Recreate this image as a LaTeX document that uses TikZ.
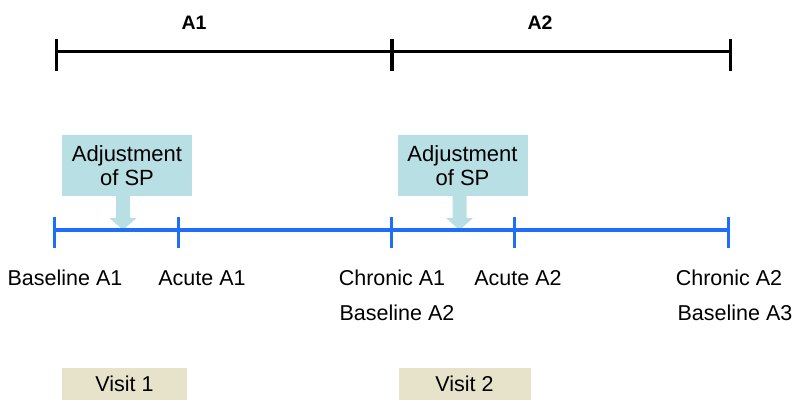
\documentclass[tikz,border=0pt]{standalone}
\usepackage{fontspec}
\setmainfont{Liberation Sans}
\usetikzlibrary{calc}
\definecolor{tlblue}{RGB}{31,110,250}
\definecolor{adjfill}{RGB}{184,223,227}
\definecolor{visitfill}{RGB}{231,226,202}
\begin{document}
\begin{tikzpicture}[x=1pt,y=-1pt,
  phase/.style={font=\bfseries\fontsize{19.5}{22}\selectfont, inner sep=0, anchor=base},
  lbl/.style={font=\fontsize{21.5}{24}\selectfont, inner sep=0, anchor=base},
  adjbox/.style={fill=adjfill, minimum width=130pt, minimum height=61pt, inner sep=0,
    align=center, font=\fontsize{22}{24}\selectfont},
  visitbox/.style={fill=visitfill, minimum height=32pt, inner sep=0,
    font=\fontsize{21.5}{24}\selectfont},
  blackline/.style={line width=3pt, black},
  blueline/.style={line width=3pt, tlblue}]
\useasboundingbox (0,0) rectangle (794,403);

% phase axis
\coordinate (k0) at (56,52);
\coordinate (k1) at (392,52);
\coordinate (k2) at (730,52);
\draw[blackline] (k0) -- (k2);
\draw[blackline] ($(k0)+(0,-13)$) -- ($(k0)+(0,19)$);
\draw[blackline, line width=4.5pt] ($(k1)+(0,-13)$) -- ($(k1)+(0,19)$);
\draw[blackline] ($(k2)+(0,-13)$) -- ($(k2)+(0,19)$);
\node[phase] (pA1) at (194,30) {A1};
\node[phase] (pA2) at (540,30) {A2};

% adjustment call-outs
\node[adjbox] (adj1) at (127,166) {Adjustment\\of SP};
\node[adjbox] (adj2) at (462.5,166) {Adjustment\\of SP};
\coordinate (tip1) at (123,230);
\coordinate (tip2) at (459.5,230);
\foreach \t/\b in {tip1/adj1, tip2/adj2}{
  \coordinate (top) at ($(\t |- \b.south)+(0,-1)$);
  \fill[adjfill] ($(top)+(-7,0)$) -- ($(\t)+(-7,-12)$) -- ($(\t)+(-13.5,-12)$)
    -- (\t) -- ($(\t)+(13.5,-12)$) -- ($(\t)+(7,-12)$) -- ($(top)+(7,0)$) -- cycle;
}

% measurement axis
\coordinate (m0) at (54.5,230);
\coordinate (m1) at (178,230);
\coordinate (m2) at (391,230);
\coordinate (m3) at (514,230);
\coordinate (m4) at (728,230);
\draw[blueline] (m0) -- (m4);
\foreach \m in {m0,m1,m2,m3,m4}
  \draw[blueline] ($(\m)+(0,-13)$) -- ($(\m)+(0,18)$);

% measurement labels
\node[lbl] (bA1) at (65,285) {Baseline A1};
\node[lbl] (aA1) at (202,285) {Acute A1};
\node[lbl] (cA1) at (392,285) {Chronic A1};
\node[lbl] (bA2) at (397,320) {Baseline A2};
\node[lbl] (aA2) at (518,285) {Acute A2};
\node[lbl] (cA2) at (729,285) {Chronic A2};
\node[lbl] (bA3) at (735,320) {Baseline A3};

% visits
\node[visitbox, minimum width=125pt] (v1) at (124.5,384) {Visit 1};
\node[visitbox, minimum width=132pt] (v2) at (464.5,384) {Visit 2};
\end{tikzpicture}
\end{document}
